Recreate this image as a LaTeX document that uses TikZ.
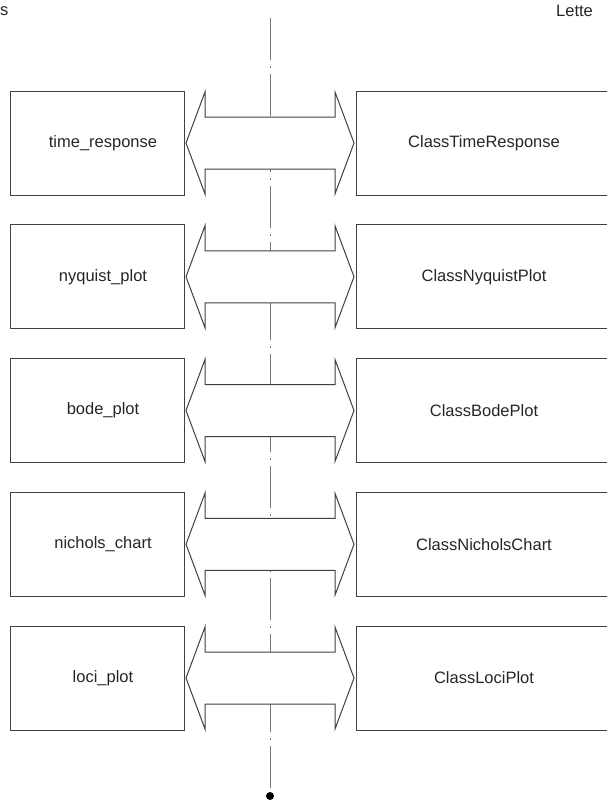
\documentclass[tikz,border=0pt]{standalone}
\usepackage{fontspec}
\setmainfont{Liberation Sans}
\begin{document}
\begin{tikzpicture}[x=1pt,y=-1pt,
  boxline/.style={draw=black!75,line width=1pt},
  arrowshape/.style={draw=black!75,line width=1pt,fill=white,line join=miter},
  lbl/.style={font=\fontsize{16.5}{18}\selectfont,text=black!85,inner sep=0pt},
  axisline/.style={draw=black!55,line width=0.9pt,dash pattern=on 42pt off 6pt on 2pt off 6pt}]
\useasboundingbox (0,0) rectangle (607,803);
\clip (0,0) rectangle (607,803);
% centre line and end dot
\coordinate (ltop) at (270,18);
\node[circle,fill=black,inner sep=0pt,minimum size=8pt] (dot) at (270,796) {};
\draw[axisline] (ltop) -- (dot.north);
% header fragments
\node[lbl,anchor=west] (hdrL) at (0,11) {s};
\node[lbl,anchor=west] (hdrR) at (556,11) {Lette};
% rows
\foreach \i/\ltxt/\rtxt in {0/time\_response/ClassTimeResponse,1/nyquist\_plot/ClassNyquistPlot,2/bode\_plot/ClassBodePlot,3/nichols\_chart/ClassNicholsChart,4/loci\_plot/ClassLociPlot}{
  \pgfmathsetmacro{\c}{143+133.75*\i}
  \draw[boxline] (10,\c-52) rectangle (184,\c+52);
  \node[lbl] (L\i) at (103,\c) {\ltxt};
  \draw[boxline] (620,\c-52) -- (356,\c-52) -- (356,\c+52) -- (620,\c+52);
  \node[lbl] (R\i) at (484,\c) {\rtxt};
  \draw[arrowshape] (186,\c) -- (205,\c-51) -- (205,\c-26) -- (335,\c-26) -- (335,\c-51) -- (354,\c)
     -- (335,\c+51) -- (335,\c+26) -- (205,\c+26) -- (205,\c+51) -- cycle;
}
\end{tikzpicture}
\end{document}
